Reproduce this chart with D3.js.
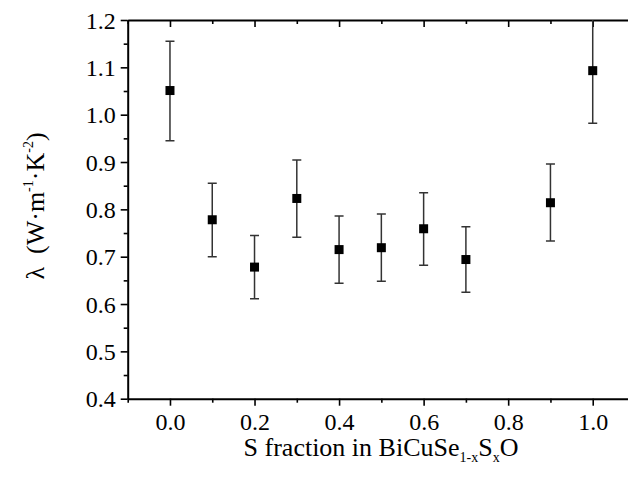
<!DOCTYPE html>
<html><head><meta charset="utf-8">
<script src="https://cdn.jsdelivr.net/npm/d3@7"></script>
<style>
html,body{margin:0;padding:0;background:#fff;overflow:hidden;}
svg text{font-family:"Liberation Serif","DejaVu Serif",serif !important;fill:#000;}
</style></head>
<body>
<svg id="chart" width="628" height="483"></svg>
<script>
// Data
const sFraction = [0.0, 0.1, 0.2, 0.3, 0.4, 0.5, 0.6, 0.7, 0.9, 1.0];
const lambda    = [1.051, 0.778, 0.678, 0.823, 0.715, 0.719, 0.759, 0.694, 0.814, 1.093];
const errUp     = [0.104, 0.077, 0.067, 0.081, 0.071, 0.071, 0.076, 0.069, 0.082, 0.110];
const errDown   = [0.106, 0.078, 0.067, 0.082, 0.071, 0.071, 0.077, 0.069, 0.081, 0.111];
const xTicks = [0.0, 0.2, 0.4, 0.6, 0.8, 1.0];
const xMinorTicks = [-0.1, 0.1, 0.3, 0.5, 0.7, 0.9, 1.1];
const yTicks = [0.4, 0.5, 0.6, 0.7, 0.8, 0.9, 1.0, 1.1, 1.2];
const yMinorTicks = [0.45, 0.55, 0.65, 0.75, 0.85, 0.95, 1.05, 1.15];

(function(){
const FONT = "Liberation Serif";
const svg = d3.select("#chart");
const x = d3.scaleLinear().domain([-0.1, 1.1]).range([127.7, 635]);
const y = d3.scaleLinear().domain([0.4, 1.2]).range([398.7, 20]);
const fmt = d3.format(".1f");
const FS = 24, TFS = 26, SFS = 14;

const g = svg.append("g");

svg.append("clipPath").attr("id","clip").append("rect")
  .attr("x", x(-0.1)).attr("y", y(1.2)).attr("width", x(1.1)-x(-0.1)).attr("height", y(0.4)-y(1.2));

function styleAxis(sel){
  sel.attr("font-family", FONT);
  sel.selectAll("path").attr("stroke","#000").attr("stroke-width",2);
  sel.selectAll("line").attr("stroke","#000").attr("stroke-width",1.6);
}

const bottomAx = g.append("g").attr("transform",`translate(0,${y(0.4)})`)
  .call(d3.axisBottom(x).tickValues(xTicks).tickSize(7).tickSizeOuter(0).tickFormat(fmt));
styleAxis(bottomAx);
bottomAx.attr("font-size",FS);
bottomAx.selectAll("text").attr("y",14).attr("dy","0.71em");
const bottomMinor = g.append("g").attr("transform",`translate(0,${y(0.4)})`)
  .call(d3.axisBottom(x).tickValues(xMinorTicks).tickSize(4).tickSizeOuter(0).tickFormat(""));
styleAxis(bottomMinor);
bottomMinor.select("path").remove();

const topAx = g.append("g").attr("transform",`translate(0,${y(1.2)})`)
  .call(d3.axisBottom(x).tickValues(xTicks).tickSize(7).tickSizeOuter(0).tickFormat(""));
styleAxis(topAx);
const topMinor = g.append("g").attr("transform",`translate(0,${y(1.2)})`)
  .call(d3.axisBottom(x).tickValues(xMinorTicks).tickSize(4).tickSizeOuter(0).tickFormat(""));
styleAxis(topMinor);
topMinor.select("path").remove();

const leftAx = g.append("g").attr("transform",`translate(${x(-0.1)},0)`)
  .call(d3.axisLeft(y).tickValues(yTicks).tickSize(7).tickSizeOuter(0).tickFormat(fmt));
styleAxis(leftAx);
leftAx.attr("font-size",FS);
leftAx.selectAll("text").attr("x",-12).attr("dy","0.34em");
const leftMinor = g.append("g").attr("transform",`translate(${x(-0.1)},0)`)
  .call(d3.axisLeft(y).tickValues(yMinorTicks).tickSize(4).tickSizeOuter(0).tickFormat(""));
styleAxis(leftMinor);
leftMinor.select("path").remove();

const rightAx = g.append("g").attr("transform",`translate(${x(1.1)},0)`)
  .call(d3.axisLeft(y).tickValues(yTicks).tickSize(7).tickSizeOuter(0).tickFormat(""));
rightAx.selectAll("path").attr("stroke","#000").attr("stroke-width",2);
rightAx.selectAll("line").attr("stroke","#bbb").attr("stroke-width",1);
const rightMinor = g.append("g").attr("transform",`translate(${x(1.1)},0)`)
  .call(d3.axisLeft(y).tickValues(yMinorTicks).tickSize(4).tickSizeOuter(0).tickFormat(""));
rightMinor.select("path").remove();
rightMinor.selectAll("line").attr("stroke","#bbb");

const data = sFraction.map((s,i)=>({s, v:lambda[i], hi:lambda[i]+errUp[i], lo:lambda[i]-errDown[i]}));
const dg = svg.append("g").attr("clip-path","url(#clip)");
const cap = 4.5;
const eb = dg.selectAll("g.eb").data(data).join("g").attr("class","eb");
eb.append("line").attr("x1",d=>x(d.s)).attr("x2",d=>x(d.s)).attr("y1",d=>y(d.hi)).attr("y2",d=>y(d.lo))
  .attr("stroke","#333").attr("stroke-width",1.5);
eb.append("line").attr("x1",d=>x(d.s)-cap).attr("x2",d=>x(d.s)+cap).attr("y1",d=>y(d.hi)).attr("y2",d=>y(d.hi))
  .attr("stroke","#333").attr("stroke-width",1.5);
eb.append("line").attr("x1",d=>x(d.s)-cap).attr("x2",d=>x(d.s)+cap).attr("y1",d=>y(d.lo)).attr("y2",d=>y(d.lo))
  .attr("stroke","#333").attr("stroke-width",1.5);
const ms = 9;
dg.selectAll("rect.pt").data(data).join("rect").attr("class","pt")
  .attr("x",d=>x(d.s)-ms/2).attr("y",d=>y(d.v)-ms/2).attr("width",ms).attr("height",ms).attr("fill","#000");

const xt = svg.append("text").attr("x",381).attr("y",456).attr("text-anchor","middle")
  .attr("font-family",FONT).attr("font-size",TFS);
xt.append("tspan").text("S fraction in BiCuSe");
xt.append("tspan").attr("font-size",SFS).attr("dy",6).text("1-x");
xt.append("tspan").attr("font-size",TFS).attr("dy",-6).text("S");
xt.append("tspan").attr("font-size",SFS).attr("dy",6).text("x");
xt.append("tspan").attr("font-size",TFS).attr("dy",-6).text("O");

const yt = svg.append("text").attr("transform","translate(44,206) rotate(-90)").attr("text-anchor","middle")
  .attr("font-family",FONT).attr("font-size",TFS);
yt.append("tspan").text("λ\u2002(W·m");
yt.append("tspan").attr("font-size",SFS).attr("dy",-11).text("-1");
yt.append("tspan").attr("font-size",TFS).attr("dy",11).text("·K");
yt.append("tspan").attr("font-size",SFS).attr("dy",-11).text("-2");
yt.append("tspan").attr("font-size",TFS).attr("dy",11).text(")");
})();
</script>
</body></html>
